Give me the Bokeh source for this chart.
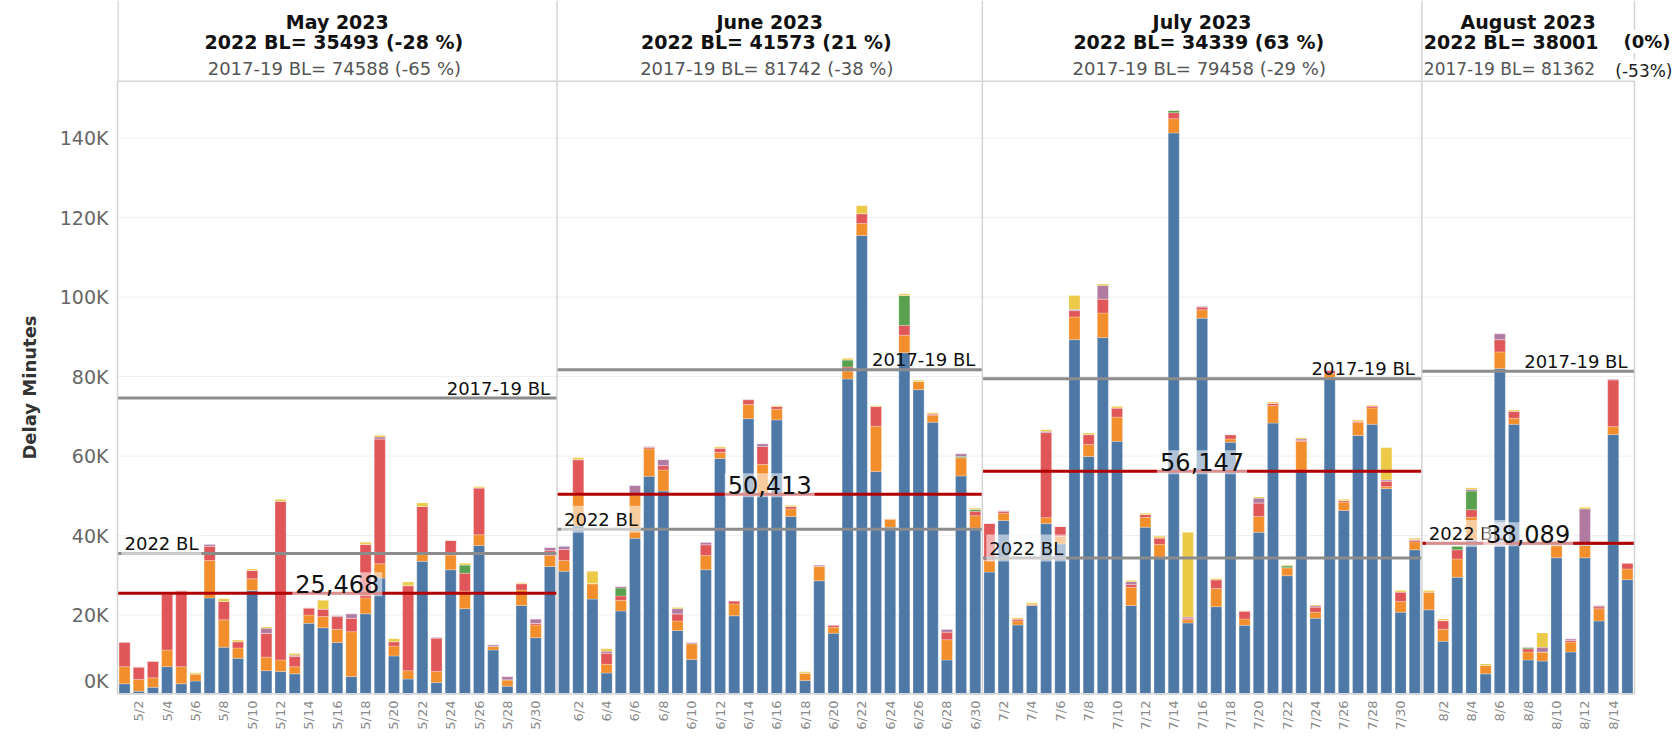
import math
from bokeh.plotting import figure
from bokeh.models import ColumnDataSource, Range1d, FixedTicker, Span
from bokeh.layouts import column
from bokeh.embed import file_html
from bokeh.resources import INLINE
from bokeh.core.properties import value

FONT = value("DejaVu Sans")

# ---------------- data ----------------
month_titles = ["May 2023", "June 2023", "July 2023", "August 2023"]
month_nums = [5, 6, 7, 8]
month_days = [31, 30, 31, 15]

bl_2022 = [35493, 41573, 34339, 38001]
bl_1719 = [74588, 81742, 79458, 81362]
month_avg = [25468, 50413, 56147, 38089]
avg_labels = ["25,468", "50,413", "56,147", "38,089"]

header_2022 = ["2022 BL= 35493  (-28 %)", "2022 BL= 41573  (21 %)",
               "2022 BL= 34339  (63 %)", "2022 BL= 38001"]
header_1719 = ["2017-19 BL= 74588  (-65 %)", "2017-19 BL= 81742  (-38 %)",
               "2017-19 BL= 79458  (-29 %)", "2017-19 BL= 81362"]
aug_2022_pct = "(0%)"
aug_1719_pct = "(-53%)"

y_ticks = [0, 20000, 40000, 60000, 80000, 100000, 120000, 140000]
y_tick_labels = ["0K\n", "20K", "40K", "60K", "80K", "100K", "120K", "140K"]

# delay minutes by cause (stack order bottom -> top)
blue_may = [2700, 800, 1800, 7000, 2700, 3400, 24300, 11900, 9100, 26200, 6000, 5800, 5200, 17900, 16800, 13100,
            4500, 20300, 29300, 9700, 3900, 33500, 3000, 31400, 21600, 37500, 11200, 2100, 22400, 14300, 32200]
orange_may = [4300, 3000, 2400, 4200, 4300, 1800, 9400, 6900, 2600, 2900, 3400, 2900, 1800, 2100, 2800, 3300,
              11300, 4000, 3600, 2500, 2100, 1700, 2800, 3700, 4400, 2700, 900, 1600, 3900, 3200, 2800]
red_may = [6200, 3100, 4200, 14100, 19000, 0, 3600, 4600, 1600, 2100, 6000, 39900, 2600, 1800, 1900, 3200,
           3400, 13500, 31400, 1100, 21400, 12100, 8400, 3700, 4500, 11800, 0, 0, 1600, 400, 1200]
green_may = [0, 0, 0, 0, 0, 0, 0, 0, 0, 0, 0, 0, 0, 0, 0, 0,
             0, 0, 0, 0, 0, 0, 0, 0, 2100, 0, 0, 0, 0, 0, 0]
purple_may = [0, 100, 0, 200, 200, 0, 500, 0, 0, 0, 1300, 0, 300, 0, 0, 300,
              1100, 0, 500, 0, 0, 0, 200, 0, 0, 0, 400, 800, 0, 1100, 800]
yellow_may = [0, 0, 0, 0, 0, 300, 0, 700, 400, 400, 300, 500, 400, 0, 2200, 0,
              0, 500, 400, 700, 900, 900, 0, 0, 400, 300, 0, 0, 200, 0, 0]

blue_jun = [31000, 42400, 24000, 5400, 21000, 39300, 54900, 51200, 16100, 8800, 31400, 59400, 19800, 69400, 50000,
            69100, 44800, 3500, 28600, 15400, 79400, 115500, 56100, 42100, 86000, 76700, 68500, 8700, 55000, 41900]
orange_jun = [2700, 7700, 3900, 2200, 2700, 10800, 6900, 5300, 2400, 4000, 3600, 1500, 3000, 3600, 7900,
              2700, 1900, 1900, 3700, 1500, 2000, 3000, 11400, 2100, 4400, 2100, 1700, 5100, 4600, 3100]
red_jun = [2800, 9000, 0, 2800, 1100, 0, 400, 1100, 1800, 0, 2700, 1100, 800, 1200, 4500,
           700, 600, 0, 0, 600, 1000, 2500, 5000, 0, 2500, 0, 400, 1900, 0, 1100]
green_jun = [0, 0, 0, 0, 2000, 0, 0, 0, 0, 0, 0, 0, 0, 0, 0,
             0, 0, 0, 0, 0, 1800, 0, 0, 0, 7500, 0, 0, 0, 300, 500]
purple_jun = [800, 0, 0, 500, 400, 2500, 200, 1500, 1300, 300, 600, 0, 0, 100, 700,
              0, 0, 0, 300, 0, 0, 0, 0, 0, 0, 0, 0, 700, 700, 0]
yellow_jun = [0, 500, 3100, 600, 0, 0, 0, 0, 300, 0, 0, 300, 0, 0, 0,
              200, 300, 300, 0, 0, 400, 2000, 200, 0, 400, 300, 300, 0, 0, 300]

blue_jul = [30800, 43800, 17500, 22400, 43000, 37900, 89300, 59900, 89800, 63700, 22400, 42100, 34600, 141300, 18000,
            94700, 22100, 63500, 17400, 40800, 68300, 29900, 56400, 19200, 79700, 46300, 65200, 68000, 51800, 20700, 36400]
orange_jul = [2900, 1800, 1000, 400, 1500, 1900, 5700, 3000, 6200, 6100, 4600, 2500, 3200, 3600, 800,
              2100, 4600, 800, 1600, 4000, 4400, 2000, 7300, 1500, 1100, 2100, 3300, 4100, 500, 2700, 2000]
red_jul = [9400, 500, 500, 0, 21400, 2500, 1600, 2500, 3500, 2300, 700, 700, 1600, 1500, 400,
           700, 2200, 1100, 2000, 3400, 600, 0, 300, 1300, 800, 400, 300, 500, 1400, 2400, 400]
green_jul = [0, 0, 0, 0, 0, 0, 0, 0, 0, 0, 0, 0, 0, 600, 0,
             0, 0, 0, 0, 0, 0, 500, 0, 0, 0, 0, 0, 0, 0, 0, 0]
purple_jul = [0, 200, 0, 0, 300, 0, 300, 0, 3400, 0, 700, 0, 0, 0, 300,
              200, 0, 0, 0, 1200, 0, 0, 300, 300, 0, 0, 0, 0, 300, 0, 200]
yellow_jul = [0, 0, 300, 300, 400, 0, 3500, 400, 400, 400, 300, 300, 400, 0, 21300,
              0, 300, 0, 100, 300, 300, 200, 300, 200, 0, 300, 300, 200, 8100, 400, 300]

blue_aug = [21300, 13400, 29500, 38800, 5200, 82000, 68000, 8700, 8400, 34400, 10700, 34400, 18500, 65400, 28900]
orange_aug = [4500, 3000, 4600, 5800, 2100, 4200, 1500, 2000, 2300, 3100, 2500, 3100, 3100, 2000, 2700]
red_aug = [0, 2200, 2300, 1900, 0, 3100, 1800, 800, 0, 1100, 400, 0, 500, 11800, 1500]
green_aug = [0, 0, 1100, 4700, 0, 0, 0, 400, 0, 0, 0, 0, 0, 0, 0]
purple_aug = [0, 0, 0, 400, 0, 1500, 0, 0, 1200, 0, 400, 9200, 300, 200, 0]
yellow_aug = [400, 400, 0, 400, 400, 0, 300, 0, 3600, 0, 0, 400, 0, 0, 0]

series_names = ["blue", "orange", "red", "green", "purple", "yellow"]
series_colors = ["#4e79a7", "#f28e2b", "#e15759", "#59a14f", "#b07aa1", "#edc948"]

# ---------------- assemble ----------------
data = {
    "blue": blue_may + blue_jun + blue_jul + blue_aug,
    "orange": orange_may + orange_jun + orange_jul + orange_aug,
    "red": red_may + red_jun + red_jul + red_aug,
    "green": green_may + green_jun + green_jul + green_aug,
    "purple": purple_may + purple_jun + purple_jul + purple_aug,
    "yellow": yellow_may + yellow_jun + yellow_jul + yellow_aug,
}
dates = []
tick_idx = []
for m, nd in zip(month_nums, month_days):
    for d in range(1, nd + 1):
        if d % 2 == 0:
            tick_idx.append(len(dates))
        dates.append(f"{m}/{d}")
n_days = len(dates)
data["x"] = list(range(n_days))
src = ColumnDataSource(data)

starts, ends = [], []
acc = 0
for nd in month_days:
    starts.append(acc - 0.5)
    acc += nd
    ends.append(acc - 0.5)
centers = [(a + b) / 2 for a, b in zip(starts, ends)]

# ---------------- layout constants ----------------
W = 1675
LEFT = 117
PANEL_W = 1517          # pixel width of the four month panels
RIGHT_EXTRA = W - LEFT - PANEL_W
HEAD_H = 80
FRAME_H = 614
BOTTOM = 47
Y_TOP = 154500
GRID = "#d4d4d4"
ppd = PANEL_W / n_days

xr = Range1d(-0.5, n_days - 0.5 + RIGHT_EXTRA / ppd)

# ---------------- header ----------------
h = figure(width=W, height=HEAD_H, toolbar_location=None, output_backend="svg",
           x_range=xr, y_range=Range1d(0, HEAD_H), x_axis_type=None, y_axis_type=None,
           min_border_left=LEFT, min_border_right=0, min_border_top=0, min_border_bottom=0)
h.outline_line_color = None
for xv in starts + [ends[-1]]:
    h.add_layout(Span(location=xv, dimension="height", line_color=GRID, level="underlay",
                      line_width=2.5 if xv < 0 else 1.5))

h.text(x=centers, y=[59] * 4, text=month_titles, text_font=FONT, text_font_size="19px",
       text_font_style="bold", text_align="center", text_baseline="middle", text_color="#111111")
h.text(x=centers[:3], y=[39] * 3, text=header_2022[:3], text_font=FONT, text_font_size="19px",
       text_font_style="bold", text_align="center", text_baseline="middle", text_color="#111111")
h.text(x=[starts[3]], y=[39], text=[header_2022[3]], x_offset=2, text_font=FONT, text_font_size="19px",
       text_font_style="bold", text_align="left", text_baseline="middle", text_color="#111111")
h.text(x=centers[:3], y=[12] * 3, text=header_1719[:3], text_font=FONT, text_font_size="18px",
       text_align="center", text_baseline="middle", text_color="#555555")
h.text(x=[starts[3]], y=[12], text=[header_1719[3]], x_offset=2, text_font=FONT, text_font_size="17px",
       text_align="left", text_baseline="middle", text_color="#555555")
h.text(x=[ends[3]], y=[39], text=[aug_2022_pct], x_offset=37, text_font=FONT, text_font_size="18px",
       text_font_style="bold", text_align="right", text_baseline="middle", text_color="#111111",
       background_fill_color="white", padding=1)
h.text(x=[ends[3]], y=[10], text=[aug_1719_pct], x_offset=39, text_font=FONT, text_font_size="17px",
       text_align="right", text_baseline="middle", text_color="#222222",
       background_fill_color="white", padding=1)

# ---------------- main chart ----------------
p = figure(width=W, height=FRAME_H + BOTTOM, toolbar_location=None, output_backend="svg",
           x_range=xr, y_range=Range1d(0, Y_TOP),
           min_border_left=LEFT, min_border_right=0, min_border_top=0, min_border_bottom=BOTTOM)
p.outline_line_color = None
p.xgrid.visible = False
p.ygrid.visible = False

# light horizontal grid, only across the month panels
grid_src = ColumnDataSource(dict(y=y_ticks[1:], x0=[starts[0]] * (len(y_ticks) - 1),
                                 x1=[ends[-1]] * (len(y_ticks) - 1)))
p.segment(x0="x0", y0="y", x1="x1", y1="y", source=grid_src, line_color="#efefef", line_width=1)

p.vbar_stack(series_names, x="x", width=0.78, color=series_colors, source=src,
             line_color="white", line_width=0.5, line_alpha=0.5)

# panel borders
for xv in starts[1:] + [ends[-1]]:
    p.add_layout(Span(location=xv, dimension="height", line_color=GRID, line_width=1.5))
p.segment(x0=[starts[0]], y0=[0], x1=[ends[-1]], y1=[0], line_color=GRID, line_width=3)
p.segment(x0=[starts[0]], y0=[Y_TOP], x1=[ends[-1]], y1=[Y_TOP], line_color=GRID, line_width=3)

lines = ColumnDataSource(dict(x0=starts, x1=ends, b22=bl_2022, b19=bl_1719, avg=month_avg,
                              cx=centers, lab=avg_labels))
p.segment(x0="x0", y0="b19", x1="x1", y1="b19", source=lines, line_color="#8c8c8c", line_width=3)
p.segment(x0="x0", y0="b22", x1="x1", y1="b22", source=lines, line_color="#8c8c8c", line_width=3)
p.segment(x0="x0", y0="avg", x1="x1", y1="avg", source=lines, line_color="#b00000", line_width=3)

p.text(x="x1", y="b19", text=value("2017-19 BL"), source=lines, x_offset=-7, y_offset=-10,
       text_font=FONT, text_font_size="18px", text_align="right", text_baseline="alphabetic",
       text_color="#111111")
p.text(x="x0", y="b22", text=value("2022 BL"), source=lines, x_offset=4, y_offset=-10,
       text_font=FONT, text_font_size="18px", text_align="left", text_baseline="alphabetic",
       text_color="#111111", background_fill_color="white", background_fill_alpha=0.55, padding=3)
p.text(x="cx", y="avg", text="lab", source=lines, y_offset=-9,
       text_font=FONT, text_font_size="24px", text_align="center", text_baseline="alphabetic",
       text_color="#111111", background_fill_color="white", background_fill_alpha=0.55, padding=3)

yax = p.yaxis[0]
yax.ticker = FixedTicker(ticks=y_ticks)
yax.major_label_overrides = {t: lab for t, lab in zip(y_ticks, y_tick_labels)}
yax.major_label_text_font = "DejaVu Sans"
yax.major_label_text_font_size = "19px"
yax.major_label_text_color = "#666666"
yax.major_label_standoff = 9
yax.major_tick_out = 0
yax.major_tick_in = 0
yax.major_tick_line_color = None
yax.minor_tick_line_color = None
yax.axis_line_color = GRID
yax.axis_line_width = 1.5
yax.axis_label = "Delay Minutes"
yax.axis_label_text_font = "DejaVu Sans"
yax.axis_label_text_font_size = "18px"
yax.axis_label_text_font_style = "bold"
yax.axis_label_text_color = "#333333"
yax.axis_label_standoff = 17

xax = p.xaxis[0]
xax.ticker = FixedTicker(ticks=tick_idx)
xax.major_label_overrides = {i: dates[i] for i in tick_idx}
xax.major_label_orientation = math.pi / 2
xax.major_label_text_font = "DejaVu Sans"
xax.major_label_text_font_size = "13px"
xax.major_label_text_color = "#8a8a8a"
xax.major_label_standoff = 6
xax.major_tick_out = 0
xax.major_tick_in = 0
xax.major_tick_line_color = None
xax.minor_tick_line_color = None
xax.axis_line_color = None

layout = column(h, p)
open("out.html", "w").write(file_html(layout, INLINE))
